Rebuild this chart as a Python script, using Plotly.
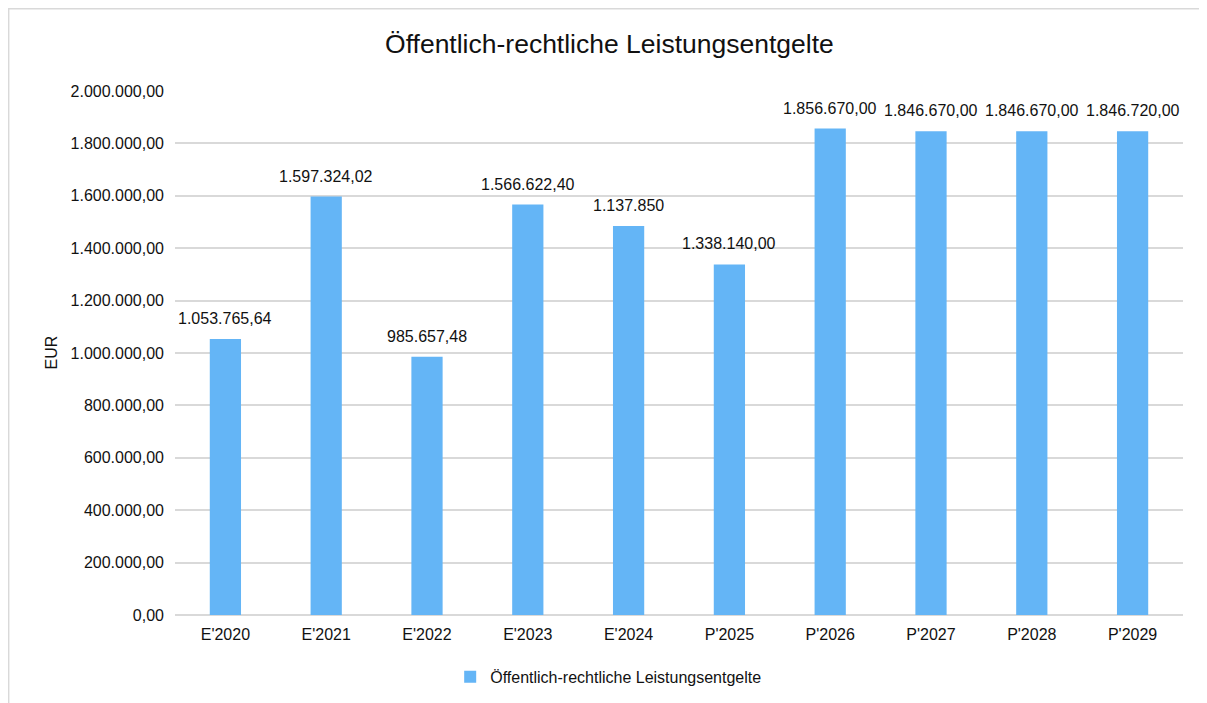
import plotly.graph_objects as go

categories = ["E'2020", "E'2021", "E'2022", "E'2023", "E'2024", "P'2025", "P'2026", "P'2027", "P'2028", "P'2029"]
values = [1053765.64, 1597324.02, 985657.48, 1566622.40, 1485000.00, 1338140.00, 1856670.00, 1846670.00, 1846670.00, 1846720.00]
label_texts = ["1.053.765,64", "1.597.324,02", "985.657,48", "1.566.622,40", "1.137.850", "1.338.140,00",
               "1.856.670,00", "1.846.670,00", "1.846.670,00", "1.846.720,00"]
series_name = "Öffentlich-rechtliche Leistungsentgelte"
title_text = "Öffentlich-rechtliche Leistungsentgelte"
y_ticks = [0, 200000, 400000, 600000, 800000, 1000000, 1200000, 1400000, 1600000, 1800000, 2000000]

FONT = "Liberation Sans, Arial, sans-serif"
BAR = "#64B5F6"
GRID = "#D9D9D9"
TXT = "#111111"

fig = go.Figure()
fig.add_trace(go.Bar(
    x=categories, y=values, name=series_name,
    marker=dict(color=BAR, line=dict(width=0)),
    showlegend=True,
))

for c, v, t in zip(categories, values, label_texts):
    fig.add_annotation(x=c, y=v, text=t, showarrow=False, xref="x", yref="y",
                       yanchor="bottom", yshift=10,
                       font=dict(family=FONT, size=16, color=TXT))

fig.add_annotation(x=-0.132, y=0.502, xref="paper", yref="paper", text="EUR", textangle=-90,
                   showarrow=False, font=dict(family=FONT, size=16, color=TXT))

# outer chart frame
fig.add_shape(type="rect", xref="paper", yref="paper",
              x0=-0.1650, x1=1.1, y0=-0.3, y1=1.1572,
              line=dict(color=GRID, width=1.5), fillcolor="rgba(0,0,0,0)", layer="below")

fig.update_layout(
    width=1207, height=703,
    margin=dict(l=167, r=32, t=83, b=96),
    paper_bgcolor="white", plot_bgcolor="white",
    separators=",.",
    font=dict(family=FONT, size=16, color=TXT),
    title=dict(text=title_text, x=0.4983, xanchor="center", y=0.949, yanchor="middle",
               font=dict(family=FONT, size=26.5, color=TXT)),
    bargap=0.69,
    xaxis=dict(showgrid=False, showline=False, ticks="", tickfont=dict(size=16),
               ticklabelstandoff=8, fixedrange=True),
    yaxis=dict(range=[0, 2000000], tickvals=y_ticks, tickformat=",.2f",
               showgrid=True, gridcolor=GRID, gridwidth=2, zeroline=True,
               zerolinecolor=GRID, zerolinewidth=2, showline=False, ticks="",
               ticklen=0, tickfont=dict(size=16), ticklabelstandoff=10, automargin=False),
    legend=dict(orientation="h", x=0.273, xanchor="left", y=-0.118, yanchor="middle",
                font=dict(family=FONT, size=16), itemwidth=30, bgcolor="rgba(0,0,0,0)"),
)

fig.write_html("out.html")
